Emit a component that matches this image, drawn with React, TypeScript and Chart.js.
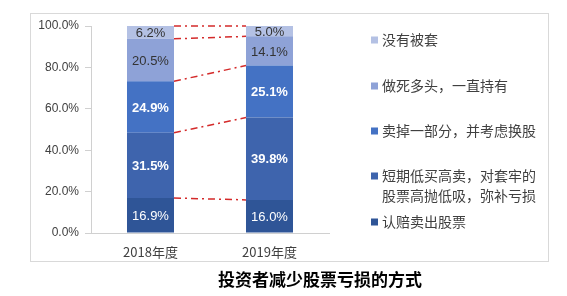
import React, { useEffect, useRef } from 'react';
import { Chart, registerables } from 'chart.js';
Chart.register(...registerables);

const categories = ['2018年度', '2019年度'];
const yTicks = [0, 20, 40, 60, 80, 100];

const s1Name = '认赔卖出股票';
const s2Name = '短期低买高卖，对套牢的股票高抛低吸，弥补亏损';
const s3Name = '卖掉一部分，并考虑换股';
const s4Name = '做死多头，一直持有';
const s5Name = '没有被套';

const s1Values = [16.9, 16.0];
const s2Values = [31.5, 39.8];
const s3Values = [24.9, 25.1];
const s4Values = [20.5, 14.1];
const s5Values = [6.2, 5.0];

const titleText = '投资者减少股票亏损的方式';

const FONT = '"Liberation Sans", Arial, "Noto Sans CJK SC", sans-serif';
const CJK = '"Noto Sans CJK SC", "Liberation Sans", sans-serif';

const colors = ['#2f5597', '#3e64ad', '#4472c4', '#8ea2d7', '#b4c1e4'];
const labelColors = ['#ffffff', '#ffffff', '#ffffff', '#333333', '#333333'];
const labelBold = [false, true, true, false, false];

const legendItems = [
  { lines: [s5Name], color: colors[4], y: 40 },
  { lines: [s4Name], color: colors[3], y: 86 },
  { lines: [s3Name], color: colors[2], y: 131 },
  { lines: ['短期低买高卖，对套牢的', '股票高抛低吸，弥补亏损'], color: colors[1], y: 176 },
  { lines: [s1Name], color: colors[0], y: 222 },
];

const decorPlugin = {
  id: 'decor',
  beforeDraw(chart: any) {
    const ctx = chart.ctx;
    ctx.save();
    ctx.fillStyle = '#ffffff';
    ctx.fillRect(0, 0, chart.width, chart.height);
    ctx.strokeStyle = '#d9d9d9';
    ctx.lineWidth = 1;
    ctx.strokeRect(30.5, 13.5, 518, 248);
    ctx.restore();
  },
  afterDatasetsDraw(chart: any) {
    const ctx = chart.ctx;
    ctx.save();
    // dash-dot connectors
    ctx.strokeStyle = '#d42a2a';
    ctx.lineWidth = 1.5;
    ctx.setLineDash([7, 4, 2, 4]);
    chart.data.datasets.forEach((_: any, di: number) => {
      const meta = chart.getDatasetMeta(di);
      const a = meta.data[0];
      const b = meta.data[1];
      if (!a || !b) return;
      ctx.beginPath();
      ctx.moveTo(a.x + a.width / 2, a.y);
      ctx.lineTo(b.x - b.width / 2, b.y);
      ctx.stroke();
    });
    ctx.setLineDash([]);
    // data labels
    ctx.textAlign = 'center';
    ctx.textBaseline = 'middle';
    chart.data.datasets.forEach((ds: any, di: number) => {
      const meta = chart.getDatasetMeta(di);
      meta.data.forEach((el: any, i: number) => {
        const v = ds.data[i];
        const yc = (el.y + el.base) / 2;
        ctx.font = (labelBold[di] ? 'bold ' : '') + '13px ' + FONT;
        ctx.fillStyle = labelColors[di];
        ctx.fillText(v.toFixed(1) + '%', el.x, yc + 1);
      });
    });
    // legend
    ctx.textAlign = 'left';
    legendItems.forEach((it) => {
      ctx.fillStyle = it.color;
      ctx.fillRect(371, it.y - 3.5, 7, 7);
      ctx.fillStyle = '#404040';
      ctx.font = '14px ' + CJK;
      it.lines.forEach((ln, k) => {
        ctx.fillText(ln, 382, it.y + k * 20);
      });
    });
    // title
    ctx.textAlign = 'center';
    ctx.fillStyle = '#000000';
    ctx.font = 'bold 17px ' + CJK;
    ctx.fillText(titleText, 320, 280);
    ctx.restore();
  },
};

export default function App() {
  const ref = useRef<HTMLCanvasElement>(null);
  useEffect(() => {
    if (!ref.current) return;
    const mk = (label: string, data: number[], i: number) => ({
      label,
      data,
      backgroundColor: colors[i],
      borderWidth: 0,
      barPercentage: 0.395,
      categoryPercentage: 1,
      stack: 's',
    });
    const chart = new Chart(ref.current, {
      type: 'bar',
      data: {
        labels: categories,
        datasets: [
          mk(s1Name, s1Values, 0),
          mk(s2Name, s2Values, 1),
          mk(s3Name, s3Values, 2),
          mk(s4Name, s4Values, 3),
          mk(s5Name, s5Values, 4),
        ],
      },
      options: {
        animation: false,
        responsive: false,
        devicePixelRatio: 1,
        layout: { padding: { left: 0, right: 238, top: 26, bottom: 0 } },
        plugins: {
          legend: { display: false },
          tooltip: { enabled: false },
          title: { display: false },
        },
        scales: {
          x: {
            stacked: true,
            grid: { display: false, drawTicks: false },
            border: { display: true, color: '#d0d0d0' },
            ticks: {
              color: '#404040',
              font: { size: 13, family: CJK },
              padding: 11,
            },
            afterFit: (s: any) => {
              s.height = 63;
            },
          },
          y: {
            stacked: true,
            min: 0,
            max: 100,
            afterBuildTicks: (s: any) => {
              s.ticks = yTicks.map((v) => ({ value: v }));
            },
            grid: { drawOnChartArea: false, drawTicks: true, tickLength: 6, color: '#d0d0d0' },
            border: { display: true, color: '#d0d0d0' },
            ticks: {
              color: '#404040',
              font: { size: 12, family: FONT },
              padding: 6,
              callback: (v: any) => Number(v).toFixed(1) + '%',
            },
            afterFit: (s: any) => {
              s.width = 91;
            },
          },
        },
      },
      plugins: [decorPlugin],
    } as any);
    return () => chart.destroy();
  }, []);
  return (
    <div style={{ position: 'fixed', left: 0, top: 0, width: 567, height: 296, background: '#fff' }}>
      <canvas ref={ref} width={567} height={296} style={{ display: 'block', width: 567, height: 296 }} />
    </div>
  );
}
